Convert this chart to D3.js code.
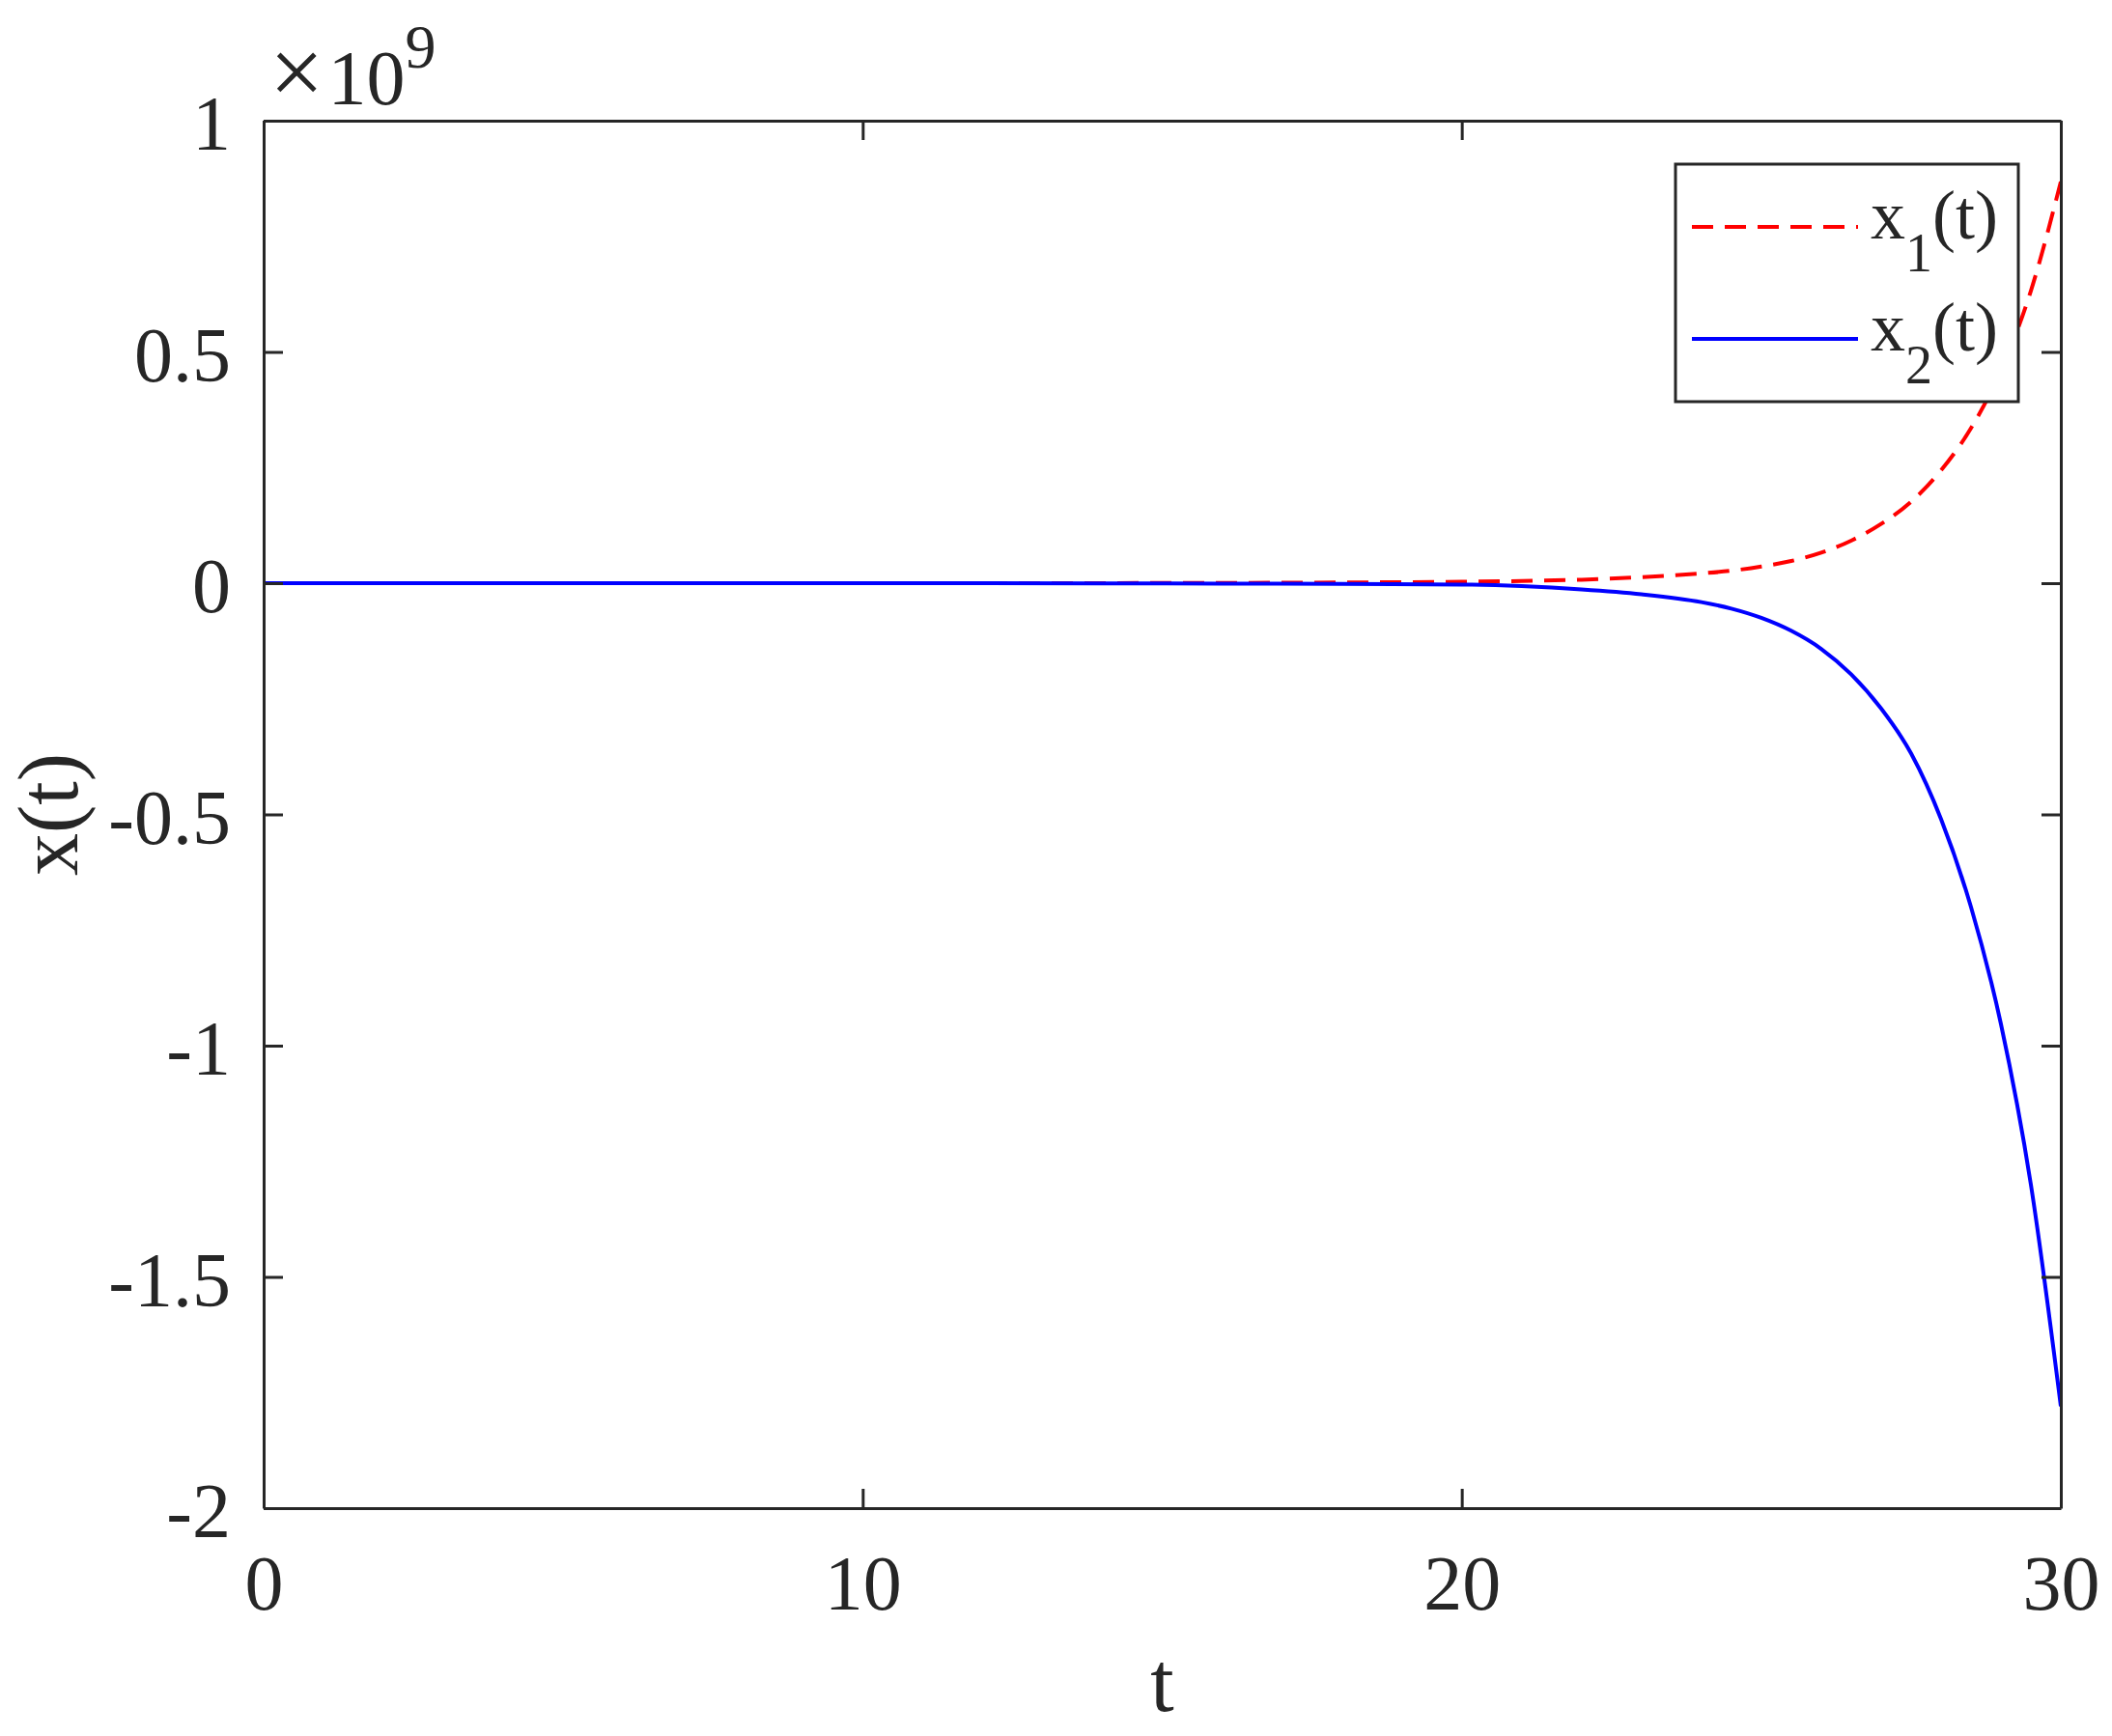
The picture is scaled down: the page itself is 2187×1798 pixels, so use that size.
<!DOCTYPE html>
<html>
<head>
<meta charset="utf-8">
<script src="https://cdn.jsdelivr.net/npm/d3@7"></script>
<style>
  body { margin: 0; background: #fff; }
  svg text { font-family: "Liberation Serif", "Times New Roman", serif; fill: #262626; }
</style>
</head>
<body>
<div id="chart"></div>
<script>
// data (y values in units of 1e9)
const tValues = [0, 5, 10, 14, 16, 18, 20, 21, 22, 23, 24, 24.5, 25, 25.5, 26, 26.5, 27, 27.5, 28, 28.5, 29, 29.5, 30];
const x1Values = [0, 0, 0, 0.0002, 0.0006, 0.0015, 0.003, 0.0048, 0.0075, 0.013, 0.021, 0.027, 0.036, 0.048, 0.066, 0.092, 0.128, 0.176, 0.244, 0.335, 0.46, 0.632, 0.868];
const x2Values = [0, 0, 0, -0.0003, -0.0008, -0.0018, -0.003, -0.0065, -0.0135, -0.024, -0.041, -0.055, -0.075, -0.103, -0.142, -0.197, -0.271, -0.368, -0.51, -0.70, -0.953, -1.30, -1.78];
const xTicks = [0, 10, 20, 30];
const yTicks = [-2, -1.5, -1, -0.5, 0, 0.5, 1];
const seriesNames = ["x1(t)", "x2(t)"];

const W = 2187, H = 1798;
const MARGIN = { LEFT: 273, RIGHT: 53, TOP: 125, BOTTOM: 236 };
const WIDTH = W - MARGIN.LEFT - MARGIN.RIGHT;
const HEIGHT = H - MARGIN.TOP - MARGIN.BOTTOM;
const INK = "#262626";

const svg = d3.select("#chart").append("svg")
  .attr("width", W)
  .attr("height", H);

svg.append("rect").attr("width", W).attr("height", H).attr("fill", "#fff");

const g = svg.append("g")
  .attr("transform", `translate(${MARGIN.LEFT}, ${MARGIN.TOP})`);

// scales
const x = d3.scaleLinear().domain([0, 30]).range([0, WIDTH]);
const y = d3.scaleLinear().domain([-2, 1]).range([HEIGHT, 0]);

// lines
const series1 = tValues.map((t, i) => ({ t: t, v: x1Values[i] }));
const series2 = tValues.map((t, i) => ({ t: t, v: x2Values[i] }));

const line = d3.line()
  .x(d => x(d.t))
  .y(d => y(d.v))
  .curve(d3.curveMonotoneX);

g.append("path")
  .attr("d", line(series1))
  .attr("fill", "none")
  .attr("stroke", "#ff0000")
  .attr("stroke-width", 4)
  .attr("stroke-dasharray", "22,12");

g.append("path")
  .attr("d", line(series2))
  .attr("fill", "none")
  .attr("stroke", "#0000ff")
  .attr("stroke-width", 4);

// axes (ticks point inward, box on)
const fmt = d => String(d);

const xAxis = g.append("g")
  .attr("transform", `translate(0, ${HEIGHT})`)
  .call(d3.axisBottom(x).tickValues(xTicks).tickFormat(fmt)
    .tickSizeInner(-20).tickSizeOuter(0).tickPadding(48));

const xAxisTop = g.append("g")
  .call(d3.axisTop(x).tickValues(xTicks).tickFormat("")
    .tickSizeInner(-20).tickSizeOuter(0));

const yAxis = g.append("g")
  .call(d3.axisLeft(y).tickValues(yTicks).tickFormat(fmt)
    .tickSizeInner(-20).tickSizeOuter(0).tickPadding(34));

const yAxisRight = g.append("g")
  .attr("transform", `translate(${WIDTH}, 0)`)
  .call(d3.axisRight(y).tickValues(yTicks).tickFormat("")
    .tickSizeInner(-20).tickSizeOuter(0));

g.selectAll(".domain, .tick line")
  .attr("stroke", INK)
  .attr("stroke-width", 3);

g.selectAll(".tick text")
  .attr("font-size", "80px")
  .attr("fill", INK);

yAxis.selectAll(".tick text").attr("dy", "0.37em");

// exponent label
const expLabel = svg.append("text")
  .attr("x", 279)
  .attr("y", 108)
  .attr("font-size", "80px");
expLabel.append("tspan").attr("font-size", "100px").text("\u00d7");
expLabel.append("tspan").attr("dx", 4).text("10");
expLabel.append("tspan")
  .attr("font-size", "64px")
  .attr("dy", -38)
  .text("9");

// axis labels
svg.append("text")
  .attr("x", MARGIN.LEFT + WIDTH / 2)
  .attr("y", 1772)
  .attr("font-size", "88px")
  .attr("text-anchor", "middle")
  .text("t");

svg.append("text")
  .attr("transform", `translate(80, ${MARGIN.TOP + HEIGHT / 2}) rotate(-90)`)
  .attr("font-size", "88px")
  .attr("text-anchor", "middle")
  .text("x(t)");

// legend
const legend = svg.append("g");
legend.append("rect")
  .attr("x", 1735)
  .attr("y", 170)
  .attr("width", 355)
  .attr("height", 246)
  .attr("fill", "#fff")
  .attr("stroke", INK)
  .attr("stroke-width", 3);

const legendItems = [
  { name: seriesNames[0], color: "#ff0000", dash: "22,12", yy: 235 },
  { name: seriesNames[1], color: "#0000ff", dash: null, yy: 351 }
];

legendItems.forEach(item => {
  legend.append("line")
    .attr("x1", 1752)
    .attr("x2", 1924)
    .attr("y1", item.yy)
    .attr("y2", item.yy)
    .attr("stroke", item.color)
    .attr("stroke-width", 4)
    .attr("stroke-dasharray", item.dash);
  const txt = legend.append("text")
    .attr("x", 1937)
    .attr("y", item.yy + 12)
    .attr("font-size", "72px")
    .attr("fill", "#000");
  txt.append("tspan").text(item.name.charAt(0));
  txt.append("tspan")
    .attr("font-size", "56px")
    .attr("dy", 34)
    .text(item.name.charAt(1));
  txt.append("tspan")
    .attr("dy", -34)
    .text(item.name.slice(2));
});
</script>
</body>
</html>
